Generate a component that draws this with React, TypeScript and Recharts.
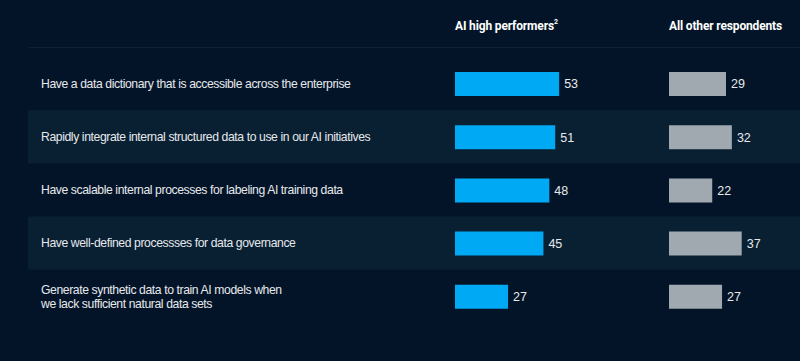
import { Bar, BarChart, LabelList, ReferenceArea, XAxis, YAxis } from 'recharts'

// categories, top to bottom
const categories = [
  'Have a data dictionary that is accessible across the enterprise',
  'Rapidly integrate internal structured data to use in our AI initiatives',
  'Have scalable internal processes for labeling AI training data',
  'Have well-defined processses for data governance',
  'Generate synthetic data to train AI models when\nwe lack sufficient natural data sets',
]
const highPerformers = [53, 51, 48, 45, 27]
const otherRespondents = [29, 32, 22, 37, 27]
const seriesNames = ['AI high performers', 'All other respondents']

const data = categories.map((label, i) => ({
  label,
  high: highPerformers[i],
  other: otherRespondents[i],
}))

const W = 800
const H = 361
const BG = '#041428'
const BAND = '#091f32'
const BLUE = '#00a9f4'
const GRAY = '#a1a9b0'
const TEXT = '#e6e9ec'
const FONT = '"Liberation Sans", Arial, sans-serif'

// layout of the two bar columns
const PLOT_LEFT = 28
const PX_PER_UNIT = 1.965
const HIGH_START = 455
const OTHER_START = 669

const domainFor = (start: number): [number, number] => [
  -(start - PLOT_LEFT) / PX_PER_UNIT,
  (W - start) / PX_PER_UNIT,
]

function CategoryTick({ y, payload }: any) {
  const lines = String(payload.value).split('\n')
  const lh = 14
  const y0 = y - ((lines.length - 1) * lh) / 2
  return (
    <text fill={TEXT} fontSize={12.2} letterSpacing={-0.4} fontFamily={FONT}>
      {lines.map((line, i) => (
        <tspan key={i} x={41} y={y0 + i * lh} dy="0.35em">
          {line}
        </tspan>
      ))}
    </text>
  )
}

const headerStyle: React.CSSProperties = {
  position: 'absolute',
  top: 19,
  color: '#ffffff',
  fontFamily: 'Roboto, "Liberation Sans", sans-serif',
  fontWeight: 700,
  fontSize: 12,
  letterSpacing: -0.15,
  whiteSpace: 'nowrap',
}

export default function App() {
  return (
    <div
      style={{
        position: 'absolute',
        left: 0,
        top: 0,
        width: W,
        height: H,
        background: BG,
        overflow: 'hidden',
      }}
    >
      <div style={{ ...headerStyle, left: HIGH_START }}>
        {seriesNames[0]}
        <sup style={{ fontSize: 7, verticalAlign: 'top', position: 'relative', top: -1 }}>2</sup>
      </div>
      <div style={{ ...headerStyle, left: OTHER_START }}>{seriesNames[1]}</div>
      <div
        style={{
          position: 'absolute',
          left: PLOT_LEFT,
          top: 47,
          width: W - PLOT_LEFT,
          height: 1,
          background: '#0c2136',
        }}
      />
      <BarChart
        width={W}
        height={H}
        data={data}
        layout="vertical"
        margin={{ top: 57, right: 0, bottom: 38, left: 0 }}
      >
        <XAxis xAxisId="a" type="number" domain={domainFor(HIGH_START)} allowDataOverflow hide />
        <XAxis xAxisId="b" type="number" domain={domainFor(OTHER_START)} allowDataOverflow hide />
        <YAxis
          yAxisId="a"
          type="category"
          dataKey="label"
          width={PLOT_LEFT}
          axisLine={false}
          tickLine={false}
          interval={0}
          tick={<CategoryTick />}
        />
        <YAxis yAxisId="b" type="category" dataKey="label" hide />
        {[categories[1], categories[3]].map((c) => (
          <ReferenceArea
            key={c}
            xAxisId="a"
            yAxisId="a"
            y1={c}
            y2={c}
            fill={BAND}
            fillOpacity={1}
            stroke="none"
            ifOverflow="visible"
          />
        ))}
        <Bar xAxisId="a" yAxisId="a" dataKey="high" fill={BLUE} barSize={24} isAnimationActive={false}>
          <LabelList dataKey="high" position="right" offset={5} fill={TEXT} fontSize={12.5} fontFamily={FONT} />
        </Bar>
        <Bar xAxisId="b" yAxisId="b" dataKey="other" fill={GRAY} barSize={24} isAnimationActive={false}>
          <LabelList dataKey="other" position="right" offset={5} fill={TEXT} fontSize={12.5} fontFamily={FONT} />
        </Bar>
      </BarChart>
    </div>
  )
}
